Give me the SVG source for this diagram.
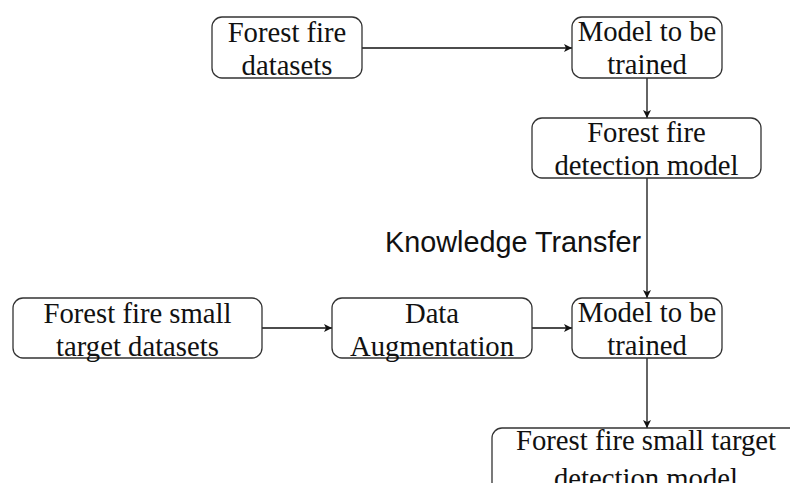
<svg xmlns="http://www.w3.org/2000/svg" width="790" height="483" viewBox="0 0 790 483">
  <defs>
    <marker id="arrow" viewBox="0 0 10 10" refX="10" refY="5" markerWidth="8" markerHeight="8" markerUnits="userSpaceOnUse" orient="auto">
      <path d="M0,0 L10,5 L0,10 L2.5,5 Z" fill="#111"/>
    </marker>
  </defs>
  <style>
    .box { fill: #fff; stroke: #333; stroke-width: 1.3; }
    .lbl { font-family: "Liberation Serif", "Times New Roman", serif; font-size: 28.7px; fill: #111; text-anchor: middle; }
    .note { font-family: "Liberation Sans", Arial, sans-serif; font-size: 28.8px; fill: #111; }
    .edge { stroke: #111; stroke-width: 1.3; fill: none; }
  </style>
  <rect width="790" height="483" fill="#fff"/>

  <g id="edges">
    <line class="edge" x1="362" y1="48" x2="572" y2="48" marker-end="url(#arrow)"/>
    <line class="edge" x1="647" y1="78" x2="647" y2="118" marker-end="url(#arrow)"/>
    <line class="edge" x1="647" y1="178" x2="647" y2="298" marker-end="url(#arrow)"/>
    <line class="edge" x1="262" y1="328" x2="332" y2="328" marker-end="url(#arrow)"/>
    <line class="edge" x1="532" y1="328" x2="572" y2="328" marker-end="url(#arrow)"/>
    <line class="edge" x1="647" y1="358" x2="647" y2="428" marker-end="url(#arrow)"/>
  </g>

  <g id="forest-fire-datasets">
    <rect class="box" x="212" y="17" width="150" height="61" rx="10"/>
    <text class="lbl" x="287" y="42">Forest fire</text>
    <text class="lbl" x="287" y="75">datasets</text>
  </g>

  <g id="model-to-be-trained-1">
    <rect class="box" x="572" y="17" width="150" height="61" rx="10"/>
    <text class="lbl" x="647" y="41">Model to be</text>
    <text class="lbl" x="647" y="74">trained</text>
  </g>

  <g id="detection-model">
    <rect class="box" x="532" y="118" width="229" height="60" rx="10"/>
    <text class="lbl" x="646.5" y="142">Forest fire</text>
    <text class="lbl" x="646.5" y="175">detection model</text>
  </g>

  <g id="knowledge-transfer">
    <text class="note" x="385" y="252">Knowledge Transfer</text>
  </g>

  <g id="small-target-datasets">
    <rect class="box" x="13" y="298" width="249" height="60" rx="10"/>
    <text class="lbl" x="137.5" y="323">Forest fire small</text>
    <text class="lbl" x="137.5" y="356">target datasets</text>
  </g>

  <g id="data-augmentation">
    <rect class="box" x="332" y="298" width="200" height="60" rx="10"/>
    <text class="lbl" x="432" y="323">Data</text>
    <text class="lbl" x="432" y="356">Augmentation</text>
  </g>

  <g id="model-to-be-trained-2">
    <rect class="box" x="572" y="298" width="150" height="60" rx="10"/>
    <text class="lbl" x="647" y="322">Model to be</text>
    <text class="lbl" x="647" y="355">trained</text>
  </g>

  <g id="small-target-detection-model">
    <rect class="box" x="492" y="428" width="308" height="80" rx="10"/>
    <text class="lbl" x="646" y="450">Forest fire small target</text>
    <text class="lbl" x="646" y="488">detection model</text>
  </g>
</svg>
